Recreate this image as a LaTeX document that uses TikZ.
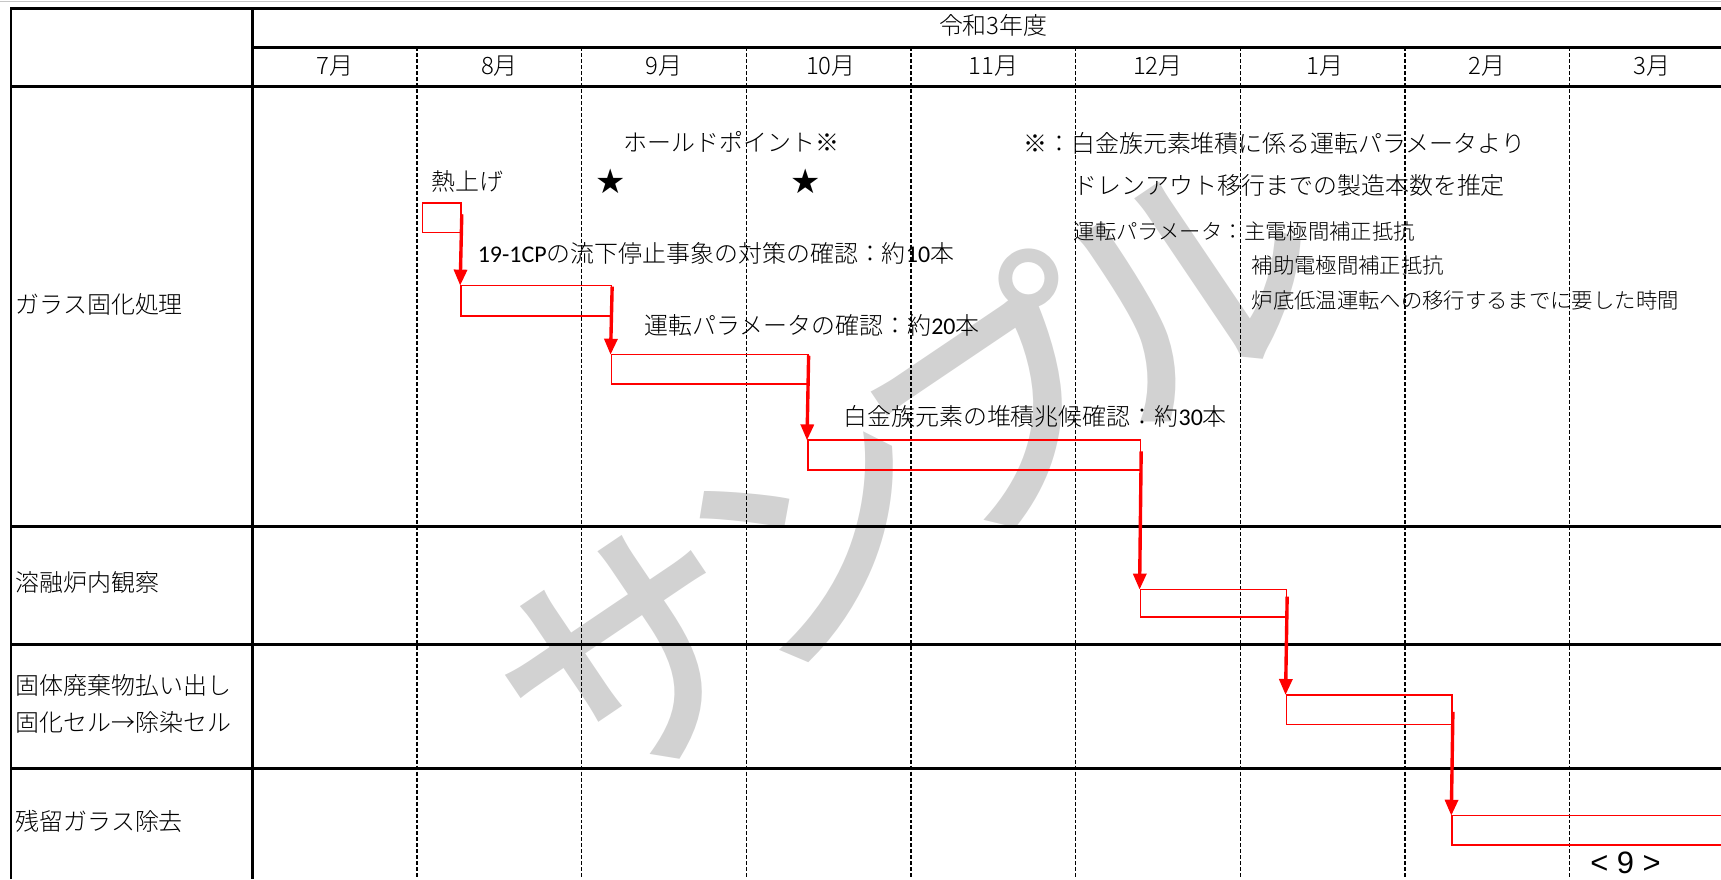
\documentclass[tikz,border=0pt]{standalone}
\usepackage{fontspec}
\setmainfont{Noto Sans CJK JP}[UprightFont=* Light,BoldFont=* Bold]
\newfontfamily\wmfont{Noto Sans CJK JP}[UprightFont=* Medium]
\newfontfamily\lat{Carlito}
\newfontfamily\sym{DejaVu Sans}
\newfontfamily\arl{Liberation Sans}
\usetikzlibrary{arrows.meta,fit}
\definecolor{wmgray}{RGB}{210,210,210}
\definecolor{bargred}{RGB}{255,0,0}
\begin{document}
\begin{tikzpicture}[x=0.55pt,y=-0.55pt,
  tbl/.style={line width=1.4pt,black},
  mdiv/.style={line width=0.6pt,black,dash pattern=on 2pt off 1pt},
  txt/.style={font=\fontsize{12pt}{14pt}\selectfont,inner sep=0pt,text height=0.8em,text depth=0.05em},
  lbl/.style={txt,anchor=west},
  small/.style={font=\fontsize{10.7pt}{13pt}\selectfont,inner sep=0pt,anchor=west,text height=0.8em,text depth=0.05em},
  bar/.style={draw=bargred,line width=0.8pt,inner sep=0pt},
  arr/.style={draw=bargred,line width=1.7pt,-{Triangle[width=6.5pt,length=8pt]},shorten >=-0.5pt},
  staricon/.style={font=\sym\fontsize{17pt}{18pt}\selectfont,inner sep=0pt},
  wm/.style={font=\wmfont\fontsize{130pt}{138pt}\selectfont,text=wmgray,inner sep=0pt}
]
\useasboundingbox (0,0) rectangle (1568,801);
% watermark (behind)
\node[wm,rotate=34] (wm) at (825,425) {サ\kern-18ptン\kern-18ptプ\kern-18ptル};
% faint top line
\draw[gray!45,line width=0.6pt] (0,1) -- (1568,1);
% month dividers
\foreach \x in {380,530,680,830,980,1130,1280,1430}
  \draw[mdiv] (\x,43) -- (\x,801);
% table lines
\draw[tbl] (10,801) -- (10,8) -- (1568,8);
\draw[tbl] (230,8) -- (230,801);
\draw[tbl] (230,43) -- (1568,43);
\draw[tbl] (10,79) -- (1568,79);
\draw[tbl] (10,480) -- (1568,480);
\draw[tbl] (10,587) -- (1568,587);
\draw[tbl] (10,700) -- (1568,700);
% header
\node[txt] (year) at (905,25) {令和3年度};
\node[txt] (m7) at (305,61) {7月};
\node[txt] (m8) at (455,61) {8月};
\node[txt] (m9) at (605,61) {9月};
\node[txt] (m10) at (757,61) {10月};
\node[txt] (m11) at (905,61) {11月};
\node[txt] (m12) at (1055,61) {12月};
\node[txt] (m1) at (1207,61) {1月};
\node[txt] (m2) at (1355,61) {2月};
\node[txt] (m3) at (1505,61) {3月};
% row labels
\node[lbl] (r1) at (14,279) {ガラス固化処理};
\node[lbl] (r2) at (14,532) {溶融炉内観察};
\node[lbl] (r3a) at (14,626) {固体廃棄物払い出し};
\node[lbl] (r3b) at (14,660) {固化セル→除染セル};
\node[lbl] (r4) at (14,750) {残留ガラス除去};
% annotations
\node[lbl] (hp) at (568,131) {ホールドポイント※};
\node[staricon] (s1) at (556,165) {★};
\node[staricon] (s2) at (734,165) {★};
\node[lbl] (heat) at (393,167) {熱上げ};
\node[lbl] (n1) at (932,132) {※：白金族元素堆積に係る運転パラメータより};
\node[lbl] (n2) at (978,170) {ドレンアウト移行までの製造本数を推定};
\node[small] (n3) at (978,211) {運転パラメータ：主電極間補正抵抗};
\node[small] (n4) at (1140,242) {補助電極間補正抵抗};
\node[small] (n5) at (1140,274) {炉底低温運転への移行するまでに要した時間};
\node[lbl] (t1) at (435,232) {{\lat 19-1CP}の流下停止事象の対策の確認：約{\lat 10}本};
\node[lbl] (t2) at (587,298) {運転パラメータの確認：約{\lat 20}本};
\node[lbl] (t3) at (768,381) {白金族元素の堆積兆候確認：約{\lat 30}本};
% bars
\node[bar,fit={(385,185) (420,212)}] (b1) {};
\node[bar,fit={(420,260) (557,288)}] (b2) {};
\node[bar,fit={(557,323) (736,350)}] (b3) {};
\node[bar,fit={(736,401) (1039,428)}] (b4) {};
\node[bar,fit={(1039,537) (1172,562)}] (b5) {};
\node[bar,fit={(1172,633) (1323,660)}] (b6) {};
\node[bar,fit={(1323,743) (1600,770)}] (b7) {};
% arrows
\draw[arr] ([yshift=-6pt]b1.north east) -- (b2.north west);
\draw[arr] ([yshift=-1pt]b2.north east) -- (b3.north west);
\draw[arr] ([yshift=-1pt]b3.north east) -- (b4.north west);
\draw[arr] ([yshift=-6pt]b4.north east) -- (b5.north west);
\draw[arr] ([yshift=-4pt]b5.north east) -- (b6.north west);
\draw[arr] ([yshift=-9pt]b6.north east) -- (b7.north west);
% page number
\node[inner sep=0pt,font=\arl\fontsize{15.5pt}{17pt}\selectfont] (pg) at (1481,786) {< 9 >};
\end{tikzpicture}
\end{document}
